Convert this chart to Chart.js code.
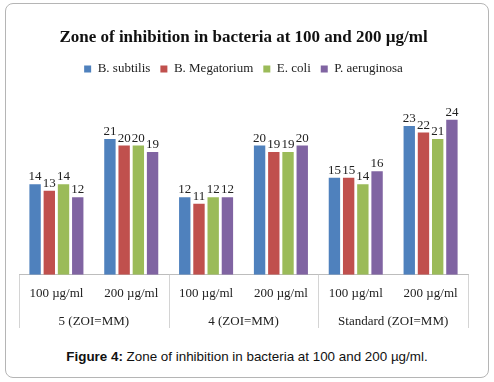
<!DOCTYPE html>
<html>
<head>
<meta charset="utf-8">
<script src="https://cdn.jsdelivr.net/npm/chart.js@4.4.0/dist/chart.umd.min.js"></script>
<style>
    html, body { margin: 0; padding: 0; background: #fff; }
    #marco {
        position: absolute; left: 5px; top: 3px; width: 484px; height: 375px;
        border: 1px solid #b5b5b5; border-radius: 8px; box-sizing: border-box;
    }
    #grafica { position: absolute; left: 0; top: 0; }
    #pie {
        position: absolute; left: 0; top: 349px; width: 494px; text-align: center;
        font-family: "Liberation Sans", Arial, sans-serif; font-size: 13.4px; color: #111;
    }
</style>
</head>
<body>
<div id="marco"></div>
<canvas id="grafica" width="494" height="331"></canvas>
<div id="pie"><b>Figure 4:</b> Zone of inhibition in bacteria at 100 and 200 µg/ml.</div>
<script>
const categorias = ['100 µg/ml', '200 µg/ml', '100 µg/ml', '200 µg/ml', '100 µg/ml', '200 µg/ml'];
const grupos = ['5 (ZOI=MM)', '4 (ZOI=MM)', 'Standard (ZOI=MM)'];

const bSubtilis = [14, 21, 12, 20, 15, 23];
const bMegatorium = [13, 20, 11, 19, 15, 22];
const eColi = [14, 20, 12, 19, 14, 21];
const pAeruginosa = [12, 19, 12, 20, 16, 24];

const fuenteSerif = '"Liberation Serif", "Times New Roman", serif';

// etiquetas de valor sobre cada barra
const etiquetasValores = {
    id: 'etiquetasValores',
    afterDatasetsDraw(chart) {
        const ctx = chart.ctx;
        ctx.save();
        ctx.font = '13px ' + fuenteSerif;
        ctx.fillStyle = '#222';
        ctx.textAlign = 'center';
        ctx.textBaseline = 'alphabetic';
        chart.data.datasets.forEach((ds, i) => {
            chart.getDatasetMeta(i).data.forEach((bar, j) => {
                ctx.fillText(ds.data[j], bar.x, bar.y - 4);
            });
        });
        ctx.restore();
    }
};

// lineas verticales que separan los grupos del eje x
const separadores = {
    id: 'separadores',
    afterDraw(chart) {
        const x = chart.scales.x;
        const x2 = chart.scales.x2;
        const ctx = chart.ctx;
        const bordes = [x.left];
        for (let i = 1; i < grupos.length; i++) {
            const k = i * 2;
            bordes.push((x.getPixelForValue(k - 1) + x.getPixelForValue(k)) / 2);
        }
        bordes.push(x.right);
        const fin = x2.bottom - 2;
        ctx.save();
        ctx.strokeStyle = '#d4d4d4';
        ctx.lineWidth = 1;
        bordes.forEach(px => {
            const xx = Math.round(px) + 0.5;
            ctx.beginPath();
            ctx.moveTo(xx, x.top);
            ctx.lineTo(xx, fin);
            ctx.stroke();
        });
        ctx.restore();
    }
};

const ctx = document.getElementById('grafica').getContext('2d');

new Chart(ctx, {
    type: 'bar',
    data: {
        labels: categorias,
        datasets: [
            { label: 'B. subtilis', data: bSubtilis, backgroundColor: '#4f81bd' },
            { label: 'B. Megatorium', data: bMegatorium, backgroundColor: '#c0504d' },
            { label: 'E. coli', data: eColi, backgroundColor: '#9bbb59' },
            { label: 'P. aeruginosa', data: pAeruginosa, backgroundColor: '#8064a2' }
        ]
    },
    options: {
        responsive: false,
        animation: false,
        categoryPercentage: 0.76,
        barPercentage: 0.8,
        borderWidth: 0,
        layout: {
            padding: { left: 19, right: 26, top: 0, bottom: 1 }
        },
        scales: {
            x: {
                grid: { display: false, drawTicks: false },
                border: { display: true, color: '#bdbdbd' },
                ticks: {
                    color: '#222',
                    font: { family: fuenteSerif, size: 13 },
                    padding: 11,
                    maxRotation: 0,
                    autoSkip: false
                }
            },
            x2: {
                type: 'category',
                position: 'bottom',
                labels: grupos,
                offset: true,
                grid: { display: false, drawTicks: false },
                border: { display: false },
                ticks: {
                    color: '#222',
                    font: { family: fuenteSerif, size: 13 },
                    padding: 1,
                    maxRotation: 0,
                    autoSkip: false
                }
            },
            y: {
                display: false,
                min: 0,
                max: 29.3
            }
        },
        plugins: {
            title: {
                display: true,
                text: 'Zone of inhibition in bacteria at 100 and 200 µg/ml',
                color: '#111',
                font: { family: fuenteSerif, size: 17, weight: 'bold' },
                padding: { top: 27, bottom: 5 }
            },
            legend: {
                display: true,
                labels: {
                    color: '#222',
                    font: { family: fuenteSerif, size: 13 },
                    boxWidth: 7,
                    boxHeight: 7,
                    padding: 10
                }
            },
            tooltip: { enabled: false }
        }
    },
    plugins: [etiquetasValores, separadores]
});
</script>
</body>
</html>
